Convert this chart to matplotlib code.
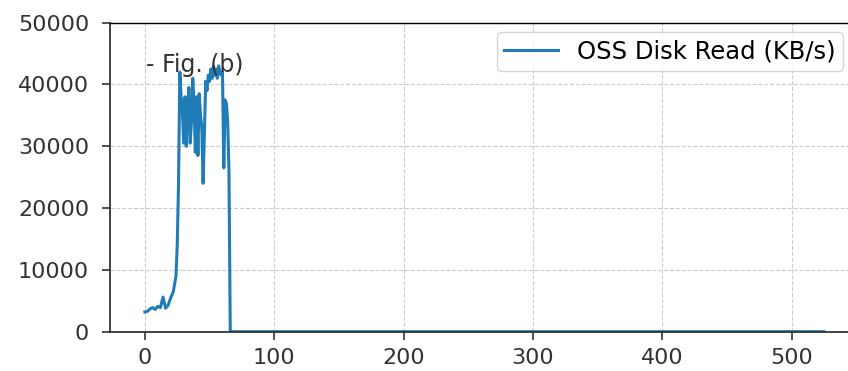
import matplotlib
matplotlib.use("Agg")
import matplotlib.pyplot as plt

# ---------- data ----------
time_s = [0, 2, 4, 6, 8, 10, 12, 14, 16, 18, 20, 22, 24, 25, 26, 27, 28, 29, 30,
          31, 32, 33, 34, 35, 36, 37, 38, 39, 40, 41, 42, 43, 44, 45, 46, 47, 48,
          49, 50, 51, 52, 53, 54, 55, 56, 57, 58, 59, 60, 61, 62, 63, 64, 65, 66,
          525]
disk_read = [3200, 3300, 3700, 3900, 3600, 4100, 3900, 5600, 3800, 4300, 5500,
             6500, 9000, 14000, 24000, 42000, 38000, 35500, 30500, 38000, 30000,
             36000, 39500, 30500, 34000, 41000, 37000, 29000, 38000, 28500, 38500,
             35000, 33000, 24000, 32000, 40500, 39000, 41500, 40500, 42500, 41000,
             43000, 41500, 42500, 41000, 43000, 42000, 41500, 42000, 26500, 37500,
             37000, 34000, 26000, 0, 0]

series_label = "OSS Disk Read (KB/s)"
note = "- Fig. (b)"
y_ticks = [0, 10000, 20000, 30000, 40000, 50000]
x_ticks = [0, 100, 200, 300, 400, 500]

# ---------- figure ----------
fig = plt.figure(figsize=(8.48, 3.71), dpi=100)
# axes runs past the right edge of the figure, like the cropped original
ax = fig.add_axes([0.1297, 0.106, 0.883, 0.833])

ax.plot(time_s, disk_read, color="#1f7cb6", linewidth=2.2, label=series_label)

ax.set_xlim(-27, 552)
ax.set_ylim(0, 50000)
ax.set_xticks(x_ticks)
ax.set_yticks(y_ticks)
ax.tick_params(labelsize=16, colors="#333333", length=6, width=1.2)
ax.tick_params(axis="x", pad=6)
ax.tick_params(axis="y", pad=9)
for s in ax.spines.values():
    s.set_color("#333333")
    s.set_linewidth(1.3)
ax.spines["top"].set_color("black")
ax.spines["top"].set_linewidth(1)
ax.grid(True, linestyle="--", color="#cccccc", linewidth=0.8)

ax.text(1, 43100, note, fontsize=17, color="#333333", va="center", ha="left")

ax.legend(loc="upper right", bbox_to_anchor=(843 / 848, (371 - 32) / 371),
          bbox_transform=fig.transFigure, borderaxespad=0, fontsize=17.5,
          handlelength=2.2, handletextpad=0.8, borderpad=0.3,
          edgecolor="#cccccc", fancybox=True)

fig.savefig("out.png", dpi=100)
